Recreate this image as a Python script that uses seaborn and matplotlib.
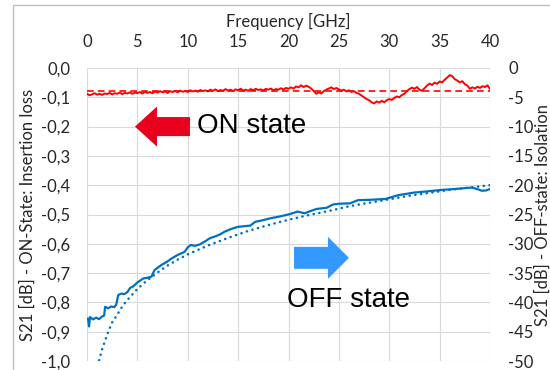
import matplotlib
matplotlib.use("Agg")
import matplotlib.pyplot as plt
import matplotlib.patches as mpatches
import seaborn as sns
import pandas as pd

# ---------------- data ----------------
freq_on = [0.0, 0.25, 0.5, 0.75, 1.0, 1.25, 1.5, 1.75, 2.0, 2.25, 2.5, 2.75, 3.0, 3.25, 3.5, 3.75,
           4.0, 4.25, 4.5, 4.75, 5.0, 5.25, 5.5, 5.75, 6.0, 6.25, 6.5, 6.75, 7.0, 7.25, 7.5, 7.75,
           8.0, 8.25, 8.5, 8.75, 9.0, 9.25, 9.5, 9.75, 10.0, 10.25, 10.5, 10.75, 11.0, 11.25, 11.5, 11.75,
           12.0, 12.25, 12.5, 12.75, 13.0, 13.25, 13.5, 13.75, 14.0, 14.25, 14.5, 14.75, 15.0, 15.25, 15.5, 15.75,
           16.0, 16.25, 16.5, 16.75, 17.0, 17.25, 17.5, 17.75, 18.0, 18.25, 18.5, 18.75, 19.0, 19.25, 19.5, 19.75,
           20.0, 20.25, 20.5, 20.75, 21.0, 21.25, 21.5, 21.75, 22.0, 22.25, 22.5, 22.75, 23.0, 23.25, 23.5, 23.75,
           24.0, 24.25, 24.5, 24.75, 25.0, 25.25, 25.5, 25.75, 26.0, 26.25, 26.5, 26.75, 27.0, 27.25, 27.5, 27.75,
           28.0, 28.25, 28.5, 28.75, 29.0, 29.25, 29.5, 29.75, 30.0, 30.25, 30.5, 30.75, 31.0, 31.25, 31.5, 31.75,
           32.0, 32.25, 32.5, 32.75, 33.0, 33.25, 33.5, 33.75, 34.0, 34.25, 34.5, 34.75, 35.0, 35.25, 35.5, 35.75,
           36.0, 36.25, 36.5, 36.75, 37.0, 37.25, 37.5, 37.75, 38.0, 38.25, 38.5, 38.75, 39.0, 39.25, 39.5, 39.75,
           40.0]
s21_on = [-0.088, -0.093, -0.090, -0.086, -0.091, -0.088, -0.092, -0.087, -0.089, -0.085, -0.090, -0.086,
          -0.088, -0.084, -0.089, -0.085, -0.087, -0.083, -0.088, -0.084, -0.086, -0.082, -0.087, -0.081,
          -0.085, -0.082, -0.086, -0.080, -0.084, -0.079, -0.083, -0.080, -0.085, -0.079, -0.082, -0.078,
          -0.083, -0.077, -0.081, -0.078, -0.082, -0.076, -0.080, -0.077, -0.081, -0.075, -0.079, -0.076,
          -0.080, -0.074, -0.078, -0.073, -0.079, -0.075, -0.078, -0.072, -0.077, -0.074, -0.079, -0.073,
          -0.076, -0.071, -0.077, -0.074, -0.078, -0.072, -0.076, -0.071, -0.075, -0.073, -0.077, -0.071,
          -0.074, -0.070, -0.076, -0.072, -0.074, -0.069, -0.073, -0.068, -0.071, -0.066, -0.070, -0.063,
          -0.066, -0.059, -0.065, -0.060, -0.064, -0.070, -0.078, -0.088, -0.083, -0.087, -0.079, -0.074,
          -0.070, -0.066, -0.072, -0.068, -0.073, -0.077, -0.074, -0.080, -0.076, -0.082, -0.079, -0.085,
          -0.088, -0.094, -0.100, -0.106, -0.110, -0.117, -0.121, -0.114, -0.118, -0.112, -0.117, -0.110,
          -0.106, -0.109, -0.102, -0.097, -0.100, -0.092, -0.088, -0.079, -0.072, -0.067, -0.071, -0.065,
          -0.074, -0.078, -0.069, -0.060, -0.053, -0.058, -0.050, -0.054, -0.046, -0.049, -0.040, -0.033,
          -0.024, -0.028, -0.038, -0.043, -0.049, -0.045, -0.055, -0.060, -0.071, -0.066, -0.070, -0.064,
          -0.068, -0.062, -0.065, -0.059, -0.072]
on_trend_x = [0, 40]
on_trend_y = [-0.077, -0.077]

freq_off = [0.1, 0.2, 0.3, 0.6, 0.9, 1.2, 1.5, 1.7, 1.8, 2.1, 2.4, 2.7, 2.9, 3.1, 3.4, 3.7, 4.0, 4.3, 4.6,
            5.0, 5.3, 5.6, 6.0, 6.4, 6.7, 7.0, 7.4, 7.7, 8.0, 8.4, 8.7, 9.0, 9.4, 9.7, 10.0, 10.3, 10.7,
            11.2, 11.7, 12.2, 12.7, 13.2, 13.7, 14.2, 14.6, 15.0, 15.6, 16.2, 16.7, 17.4, 18.2, 19.1,
            20.1, 20.9, 21.6, 22.2, 22.8, 23.8, 24.4, 25.1, 26.1, 26.9, 28.0, 29.6, 30.9, 32.5, 33.8,
            35.2, 36.5, 37.5, 38.2, 38.8, 39.2, 39.6, 40.0]
s21_off = [-42.75, -44.1, -42.5, -42.9, -42.6, -42.85, -42.4, -42.25, -40.75, -41.0, -40.7, -40.8, -40.4,
           -38.75, -38.5, -38.6, -38.25, -37.5, -37.25, -36.6, -36.25, -35.9, -35.8, -35.6, -34.5, -34.1,
           -33.6, -33.3, -33.0, -32.5, -32.2, -31.9, -31.6, -31.35, -30.6, -30.2, -30.35, -30.1, -29.6,
           -29.05, -28.75, -28.4, -27.9, -27.55, -27.3, -27.1, -27.0, -26.9, -26.25, -26.0, -25.65, -25.35,
           -24.95, -24.5, -24.8, -24.4, -24.05, -23.85, -23.3, -23.15, -23.1, -22.55, -22.5, -22.35, -21.7,
           -21.25, -21.05, -20.8, -20.65, -20.5, -20.4, -20.7, -20.95, -20.9, -20.65]
off_trend_x = [1.2, 1.5, 2.0, 2.5, 3.0, 3.5, 4.0, 5.0, 6.0, 7.0, 8.0, 9.0, 10.0, 12.0, 14.0, 16.0, 18.0,
               20.0, 22.0, 24.0, 26.0, 28.0, 30.0, 32.0, 34.0, 36.0, 38.0, 40.0]
off_trend_y = [-49.9, -48.0, -45.5, -43.4, -42.1, -40.7, -39.6, -37.7, -36.2, -34.9, -33.7, -32.7, -31.8,
               -30.3, -29.0, -27.8, -26.8, -25.9, -25.1, -24.4, -23.6, -23.0, -22.4, -21.8, -21.3, -20.8,
               -20.4, -20.0]

x_ticks = [0, 5, 10, 15, 20, 25, 30, 35, 40]
left_ticks = [0.0, -0.1, -0.2, -0.3, -0.4, -0.5, -0.6, -0.7, -0.8, -0.9, -1.0]
left_labels = ["0,0", "-0,1", "-0,2", "-0,3", "-0,4", "-0,5", "-0,6", "-0,7", "-0,8", "-0,9", "-1,0"]
right_ticks = [0, -5, -10, -15, -20, -25, -30, -35, -40, -45, -50]
right_labels = ["0", "-5", "-10", "-15", "-20", "-25", "-30", "-35", "-40", "-45", "-50"]

# ---------------- style ----------------
sns.set_theme(style="white")
plt.rcParams["font.family"] = ["Lato", "DejaVu Sans"]
plt.rcParams["axes.unicode_minus"] = False

RED = "#FF0000"
BLUE = "#0070C0"
GRID = "#D9D9D9"
TXT = "#262626"

fig = plt.figure(figsize=(5.5, 3.7), dpi=100)
ax = fig.add_axes([87 / 550, 1 - 361 / 370, (490 - 87) / 550, (361 - 68) / 370])
ax2 = ax.twinx()

df_on = pd.DataFrame({"f": freq_on, "v": s21_on})
df_on_t = pd.DataFrame({"f": on_trend_x, "v": on_trend_y})
df_off = pd.DataFrame({"f": freq_off, "v": s21_off})
df_off_t = pd.DataFrame({"f": off_trend_x, "v": off_trend_y})

sns.lineplot(data=df_on_t, x="f", y="v", ax=ax, color=RED, lw=1.2, estimator=None)
ax.lines[-1].set_dashes([4, 2.5])
sns.lineplot(data=df_on, x="f", y="v", ax=ax, color=RED, lw=1.4, estimator=None)

sns.lineplot(data=df_off_t, x="f", y="v", ax=ax2, color=BLUE, lw=1.8, estimator=None)
ln = ax2.lines[-1]
ln.set_dashes([0.1, 2.2])
ln.set_dash_capstyle("round")
sns.lineplot(data=df_off, x="f", y="v", ax=ax2, color=BLUE, lw=1.6, estimator=None)

ax.set_xlim(0, 40)
ax.set_ylim(-1.0, 0.0)
ax2.set_ylim(-50, 0)

ax.set_xticks(x_ticks)
ax.set_yticks(left_ticks)
ax.set_yticklabels(left_labels)
ax2.set_yticks(right_ticks)
ax2.set_yticklabels(right_labels)

ax.xaxis.tick_top()
ax.xaxis.set_label_position("top")
ax.grid(True, color=GRID, lw=0.8)
ax.set_axisbelow(True)
for a in (ax, ax2):
    for s in a.spines.values():
        s.set_visible(False)
ax.tick_params(axis="x", length=0, pad=13, labelsize=12, labelcolor=TXT)
ax.tick_params(axis="y", length=0, pad=12, labelsize=12, labelcolor=TXT)
ax2.tick_params(axis="y", length=0, pad=13, labelsize=12, labelcolor=TXT)

ax.set_xlabel("Frequency [GHz]", fontsize=12, color=TXT, labelpad=5)
ax.set_ylabel("S21 [dB] - ON-State: Insertion loss", fontsize=12, color=TXT)
ax.yaxis.set_label_coords(-0.128, 0.5)
ax2.set_ylabel("S21 [dB] - OFF-state: Isolation", fontsize=12, color=TXT, rotation=90)
ax2.yaxis.set_label_coords((535 - 87) / 403, 0.5)

# arrows and annotations
ax.add_patch(mpatches.FancyArrow(10.22, -0.200, -5.46, 0, width=0.065, head_width=0.137,
                                 head_length=2.19, length_includes_head=True,
                                 color="#E8001C", lw=0, zorder=3))
ax.add_patch(mpatches.FancyArrow(20.55, -0.648, 5.45, 0, width=0.075, head_width=0.143,
                                 head_length=2.08, length_includes_head=True,
                                 color="#3399FF", lw=0, zorder=3))
ax.text(10.9, -0.222, "ON state", fontsize=20, family="Liberation Sans", color="black", va="baseline")
ax.text(19.85, -0.816, "OFF state", fontsize=20, family="Liberation Sans", color="black", va="baseline")

# outer border
fig.patches.append(mpatches.Rectangle((13 / 550, -0.2), 1.3, 1.2 - 5 / 370, transform=fig.transFigure,
                                      fill=False, edgecolor="#BFBFBF", lw=1))

fig.savefig("out.png", dpi=100)
